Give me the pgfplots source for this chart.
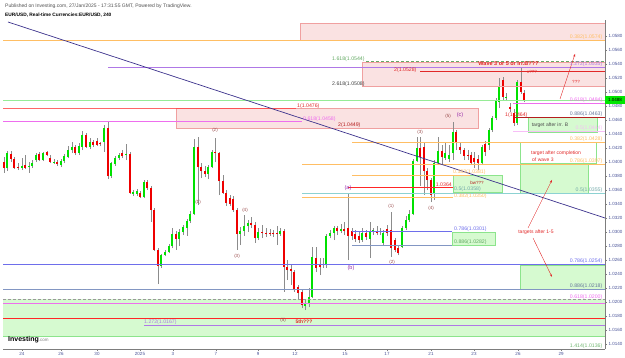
\documentclass[border=0pt]{standalone}
\usepackage{fontspec}
\setmainfont{Liberation Sans}
\usepackage{pgfplots}
\pgfplotsset{compat=1.18}
\usepackage{pgfplotstable}
\usetikzlibrary{arrows.meta}

\definecolor{cgreen}{RGB}{0,225,0}
\definecolor{cred}{RGB}{238,0,0}
\definecolor{cwick}{RGB}{140,140,140}
\definecolor{pinkfill}{RGB}{250,226,226}
\definecolor{pinkedge}{RGB}{240,160,160}
\definecolor{greenfill}{RGB}{214,250,208}
\definecolor{greenedge}{RGB}{140,228,140}
\definecolor{fiborange}{RGB}{255,190,100}
\definecolor{fibpurple}{RGB}{175,120,230}
\definecolor{fibmagenta}{RGB}{238,110,238}
\definecolor{fibblue}{RGB}{110,110,235}
\definecolor{fibgrayblue}{RGB}{130,150,195}
\definecolor{fibteal}{RGB}{140,210,210}
\definecolor{fibgreen}{RGB}{100,170,100}
\definecolor{trendnavy}{RGB}{60,50,140}
\definecolor{wavebrown}{RGB}{150,70,70}
\definecolor{wavepurple}{RGB}{150,40,170}
\definecolor{tickblue}{RGB}{70,80,150}
\definecolor{annred}{RGB}{225,40,40}
\definecolor{darkred}{RGB}{180,30,30}
\definecolor{pricegreen}{RGB}{0,230,0}
\definecolor{priceline}{RGB}{150,235,150}

\newcommand\hdr{\fontsize{5}{6}\selectfont}
\newcommand\fib{\fontsize{5.2}{6}\selectfont}
\newcommand\wav{\fontsize{4.5}{5}\selectfont}
\newcommand\ann{\fontsize{5}{6}\selectfont}
\newcommand\tck{\fontsize{4.5}{5}\selectfont}

% x = pixel column, prices: wick bottom, body bottom, body top, wick top
\pgfplotstableread{
x wb bb bt wt
7 1.03868 1.03911 1.04125 1.04154
22 1.03882 1.03911 1.03940 1.04054
29 1.03840 1.03925 1.03940 1.03997
32 1.03911 1.03940 1.03982 1.04025
36 1.03997 1.04025 1.04097 1.04125
43 1.04011 1.04025 1.04125 1.04140
54 1.03968 1.03982 1.03997 1.04040
61 1.03925 1.03954 1.04011 1.04040
64 1.03982 1.04011 1.04082 1.04111
68 1.04054 1.04068 1.04168 1.04225
72 1.04125 1.04168 1.04211 1.04282
79 1.04097 1.04125 1.04225 1.04268
82 1.04168 1.04211 1.04382 1.04440
90 1.04182 1.04211 1.04282 1.04340
104 1.04140 1.04282 1.04482 1.04525
111 1.03768 1.03797 1.03982 1.03997
115 1.03940 1.03968 1.04054 1.04082
119 1.04025 1.04054 1.04097 1.04125
126 1.04025 1.04097 1.04111 1.04254
133 1.03511 1.03540 1.03568 1.03597
137 1.03511 1.03540 1.03582 1.03611
144 1.03482 1.03497 1.03711 1.03740
161 1.02482 1.02511 1.02668 1.02682
165 1.02654 1.02668 1.02711 1.02740
169 1.02697 1.02711 1.02797 1.02825
172 1.02768 1.02797 1.02968 1.03054
179 1.02797 1.02897 1.02997 1.03040
183 1.02954 1.02997 1.03068 1.03097
187 1.02940 1.03054 1.03154 1.03182
190 1.03125 1.03154 1.03254 1.03297
194 1.03240 1.03254 1.04211 1.04325
208 1.03754 1.03825 1.03925 1.03954
212 1.03911 1.03925 1.04140 1.04168
240 1.02811 1.02968 1.03011 1.03068
244 1.02940 1.03011 1.03082 1.03240
248 1.02997 1.03082 1.03125 1.03168
258 1.02882 1.02911 1.02997 1.03054
280 1.02940 1.02968 1.03011 1.03054
305 1.01882 1.01940 1.01982 1.02025
309 1.01925 1.01982 1.02068 1.02197
312 1.02054 1.02068 1.02640 1.02782
326 1.02482 1.02525 1.02940 1.02968
330 1.02911 1.02940 1.02982 1.03025
334 1.02882 1.02982 1.03054 1.03082
341 1.02982 1.03011 1.03040 1.03111
362 1.02854 1.02882 1.02982 1.03054
370 1.02625 1.02897 1.03011 1.03140
373 1.02954 1.02997 1.03025 1.03054
380 1.02954 1.02997 1.03011 1.03054
383 1.02811 1.02840 1.02982 1.03025
402 1.02768 1.02782 1.03054 1.03082
406 1.03025 1.03054 1.03168 1.03225
409 1.03140 1.03168 1.03254 1.03311
413 1.03240 1.03254 1.04011 1.04040
417 1.03997 1.04011 1.04197 1.04354
434 1.03454 1.03554 1.03982 1.04025
438 1.03954 1.03982 1.04154 1.04354
445 1.04025 1.04054 1.04125 1.04268
449 1.03997 1.04040 1.04097 1.04240
453 1.04025 1.04125 1.04425 1.04568
482 1.03954 1.03982 1.04211 1.04240
489 1.04168 1.04240 1.04454 1.04482
492 1.04425 1.04454 1.04625 1.04654
496 1.04597 1.04625 1.04882 1.04911
499 1.04768 1.04854 1.05082 1.05197
506 1.04868 1.04911 1.04925 1.04982
517 1.04525 1.04554 1.05140 1.05168
}\greencandles

\pgfplotstableread{
x wb bb bt wt
4 1.03840 1.03911 1.03997 1.04068
11 1.03997 1.04040 1.04111 1.04154
14 1.03897 1.03911 1.04040 1.04068
18 1.03882 1.03911 1.03925 1.03982
25 1.03897 1.03911 1.03954 1.04097
39 1.04011 1.04025 1.04111 1.04140
47 1.04082 1.04097 1.04140 1.04154
50 1.03982 1.03997 1.04054 1.04097
57 1.03940 1.03968 1.03997 1.04025
75 1.04097 1.04125 1.04211 1.04240
86 1.04197 1.04211 1.04382 1.04411
93 1.04211 1.04240 1.04282 1.04311
97 1.04225 1.04240 1.04297 1.04340
100 1.04225 1.04254 1.04268 1.04282
108 1.03754 1.03797 1.04482 1.04582
122 1.04054 1.04082 1.04125 1.04168
130 1.03540 1.03554 1.04111 1.04140
140 1.03482 1.03497 1.03554 1.03582
147 1.03597 1.03625 1.03711 1.03740
151 1.03140 1.03311 1.03625 1.03654
154 1.02725 1.02740 1.03311 1.03340
158 1.02254 1.02511 1.02740 1.02768
176 1.02740 1.02897 1.02968 1.03011
198 1.03382 1.03925 1.04211 1.04354
201 1.03768 1.03868 1.03925 1.03982
205 1.03782 1.03825 1.03868 1.03940
215 1.03997 1.04125 1.04140 1.04340
219 1.03525 1.03725 1.04125 1.04140
223 1.03540 1.03554 1.03725 1.03811
226 1.03368 1.03411 1.03554 1.03597
230 1.03368 1.03397 1.03482 1.03525
233 1.03282 1.03311 1.03468 1.03511
237 1.02740 1.02968 1.03311 1.03340
251 1.03054 1.03097 1.03125 1.03211
255 1.02840 1.02911 1.03097 1.03140
262 1.02911 1.02982 1.02997 1.03097
266 1.02925 1.02968 1.02982 1.03054
270 1.02940 1.02968 1.02982 1.03040
273 1.02925 1.02968 1.02982 1.03025
277 1.02811 1.02968 1.02982 1.03082
284 1.02140 1.02497 1.03011 1.03040
287 1.02311 1.02454 1.02497 1.02597
291 1.02240 1.02440 1.02468 1.02525
294 1.02140 1.02168 1.02425 1.02454
298 1.02025 1.02125 1.02211 1.02240
302 1.01911 1.01954 1.02140 1.02168
316 1.02425 1.02482 1.02625 1.02782
320 1.02382 1.02497 1.02525 1.02625
323 1.02482 1.02525 1.02540 1.02625
337 1.02954 1.03011 1.03054 1.03082
344 1.02954 1.03011 1.03040 1.03140
348 1.02597 1.02940 1.03054 1.03540
352 1.02882 1.02940 1.03011 1.03054
355 1.02854 1.02897 1.02968 1.03025
359 1.02840 1.02882 1.02940 1.02997
366 1.02882 1.02925 1.02982 1.03025
377 1.02954 1.02982 1.02997 1.03082
387 1.02940 1.02982 1.03040 1.03097
391 1.02640 1.02768 1.03025 1.03282
395 1.02711 1.02740 1.02882 1.02911
398 1.02668 1.02697 1.02768 1.02797
420 1.03654 1.04068 1.04197 1.04354
424 1.03525 1.03868 1.04211 1.04282
427 1.03597 1.03740 1.03868 1.03911
431 1.03425 1.03525 1.03740 1.03768
442 1.03954 1.04068 1.04154 1.04240
456 1.04168 1.04268 1.04425 1.04454
460 1.04111 1.04168 1.04211 1.04282
464 1.04025 1.04082 1.04168 1.04197
468 1.04025 1.04082 1.04097 1.04168
471 1.03954 1.03982 1.04097 1.04140
474 1.03911 1.03997 1.04054 1.04140
478 1.03882 1.03982 1.04040 1.04097
485 1.04082 1.04140 1.04254 1.04297
503 1.04882 1.04925 1.05168 1.05211
510 1.04711 1.04754 1.04782 1.04840
514 1.04511 1.04554 1.04697 1.04754
521 1.04968 1.04997 1.05140 1.05340
524 1.04854 1.04882 1.04982 1.05025
}\redcandles

\begin{document}
\begin{tikzpicture}
\useasboundingbox (0,0) rectangle (625pt,358pt);

% ---------- background zones (pixel coordinates, origin top-left) ----------
\begin{scope}[x=1pt,y=-1pt,yshift=358pt]
  \filldraw[fill=pinkfill, draw=pinkedge, line width=0.5pt] (300,23) rectangle (605,40);
  \filldraw[fill=pinkfill, draw=pinkedge, line width=0.5pt] (362,62) rectangle (605,86);
  \filldraw[fill=pinkfill, draw=pinkedge, line width=0.5pt] (176,108) rectangle (478,128);
  \filldraw[fill=greenfill, draw=greenedge, line width=0.6pt] (528,117) rectangle (597,132);
  \draw[greenedge, line width=1pt] (520,143) rectangle (596,164);
  \filldraw[fill=greenfill, draw=greenedge, line width=0.6pt] (520,164) rectangle (588,193);
  \filldraw[fill=greenfill, draw=greenedge, line width=0.6pt] (453,175) rectangle (502,192);
  \filldraw[fill=greenfill, draw=greenedge, line width=0.6pt] (452,232) rectangle (495,245);
  \filldraw[fill=greenfill, draw=greenedge, line width=0.6pt] (520,265) rectangle (605,289);
  \fill[greenfill] (3,299) rectangle (605,337);
\end{scope}

\begin{axis}[
  at={(3pt,9pt)}, anchor=south west,
  scale only axis, width=602pt, height=329pt,
  xmin=3, xmax=605, ymin=1.013257, ymax=1.060257,
  axis x line=bottom, axis y line=right,
  axis line style={draw={rgb,255:red,125;green,125;blue,125}, line width=0.5pt, -},
  tick style={draw={rgb,255:red,125;green,125;blue,125}, line width=0.4pt},
  major tick length=2pt, tick align=outside,
  xtick={22,61,97,140,173,216,258,295,345,387,431,474,518,561},
  xticklabels={24,26,30,2025,3,7,9,12,15,17,21,23,26,29},
  ytick={1.014,1.016,...,1.058},
  scaled y ticks=false,
  xticklabel style={font=\tck, text=tickblue, inner sep=1pt},
  yticklabel style={font=\tck, text=tickblue, inner sep=1.5pt, /pgf/number format/.cd, fixed, fixed zerofill, precision=4, assume math mode=true},
]
  % wicks
  \addplot[cwick, line width=0.6pt, -, quiver={u=0, v=\thisrow{wt}-\thisrow{wb}}] table[x=x, y=wb] {\greencandles};
  \addplot[cwick, line width=0.6pt, -, quiver={u=0, v=\thisrow{wt}-\thisrow{wb}}] table[x=x, y=wb] {\redcandles};
  % bodies
  \addplot[cgreen, line width=2.4pt, -, quiver={u=0, v=\thisrow{bt}-\thisrow{bb}}] table[x=x, y=bb] {\greencandles};
  \addplot[cred, line width=2.4pt, -, quiver={u=0, v=\thisrow{bt}-\thisrow{bb}}] table[x=x, y=bb] {\redcandles};
\end{axis}

% ---------- drawings on top ----------
\begin{scope}[x=1pt,y=-1pt,yshift=358pt]
  % header
  \node[anchor=west, inner sep=0pt, font=\hdr, text={rgb,255:red,80;green,80;blue,80}] at (5,6) {Published on Investing.com, 27/Jan/2025 - 17:31:55 GMT, Powered by TradingView.};
  \node[anchor=west, inner sep=0pt, font=\fontsize{4.8}{6}\selectfont\bfseries] at (5,15) {EUR/USD, Real-time Currencies:EUR/USD, 240};

  % horizontal levels
  \draw[fiborange, line width=0.6pt] (3,40) -- (605,40);
  \draw[fibpurple, line width=0.6pt] (108,67) -- (605,67);
  \draw[fibgreen, line width=0.8pt, dash pattern=on 3pt off 2pt] (366,61) -- (605,61);
  \draw[annred, line width=0.6pt] (420,71.5) -- (605,71.5);
  \draw[pinkedge, line width=0.6pt] (368,86) -- (605,86);
  \draw[priceline, line width=0.6pt] (3,100) -- (605,100);
  \draw[fibmagenta, line width=0.5pt] (513,103) -- (605,103);
  \draw[red!75, line width=1.2pt, opacity=0.8] (3,108.5) -- (296,108.5);
  \draw[fibmagenta, line width=0.5pt] (3,121) -- (302,121);
  \draw[darkred, line width=0.9pt] (514,117) -- (605,117);
  \draw[fibmagenta!45, line width=0.5pt] (513,131) -- (605,131);
  \draw[fiborange, line width=0.5pt] (352,142.5) -- (605,142.5);
  \draw[fiborange, line width=0.5pt] (302,164) -- (605,164);
  \draw[fiborange, line width=0.5pt] (352,175) -- (470,175);
  \draw[red!85, line width=1pt] (348,188) -- (453,188);
  \draw[fibteal, line width=0.5pt] (302,193) -- (605,193);
  \draw[fiborange, line width=0.5pt] (302,197) -- (453,197);
  \draw[fibblue, line width=0.5pt] (352,231.5) -- (452,231.5);
  \draw[fibgrayblue, line width=0.5pt] (352,245) -- (452,245);
  \draw[fibblue, line width=0.5pt] (3,264) -- (605,264);
  \draw[fibgrayblue, line width=0.5pt] (3,289) -- (605,289);
  \draw[gray!80, line width=0.8pt, dash pattern=on 3pt off 2pt] (3,299.5) -- (605,299.5);
  \draw[fibmagenta, line width=0.6pt] (3,303) -- (605,303);
  \draw[red!85, line width=0.8pt] (3,318) -- (605,318);
  \draw[fibpurple, line width=0.5pt] (144,325) -- (605,325);
  \draw[greenedge, line width=1pt] (3,337) -- (605,337);

  % trend line
  \draw[trendnavy, line width=0.7pt] (8,22) -- (605,218);

  % arrows
  \draw[annred, line width=0.4pt, -{Stealth[length=3pt,width=2pt]}] (560,99) -- (575,54);
  \draw[annred, line width=0.4pt, -{Stealth[length=3pt,width=2pt]}] (528,228) -- (552,180);
  \draw[annred, line width=0.4pt, -{Stealth[length=3pt,width=2pt]}] (533,238) -- (552,277);

  % right-hand fib labels
  \begin{scope}[every node/.style={anchor=south east, inner sep=0.5pt, font=\fib}]
    \node[text=fiborange] at (603,40) {0.382(1.0574)};
    \node[text=fibpurple] at (603,67) {1.272(1.0535)};
    \node[text=fibmagenta] at (603,103) {0.618(1.0484)};
    \node[text=fibgrayblue!80!black] at (603,117.5) {0.886(1.0463)};
    \node[text=fibmagenta!45] at (603,131) {0.5(1.0444)};
    \node[text=fiborange] at (603,142.5) {0.382(1.0428)};
    \node[text=fiborange] at (603,164) {0.786(1.0397)};
    \node[text=fibteal!80!black] at (603,193) {0.5(1.0355)};
    \node[text=fibblue] at (603,264) {0.786(1.0254)};
    \node[text=fibgrayblue!80!black] at (603,289) {0.886(1.0218)};
    \node[text=fibmagenta] at (603,300) {0.618(1.0200)};
    \node[text=greenedge!80!black] at (603,349.5) {1.414(1.0136)};
  \end{scope}

  % inline fib labels
  \begin{scope}[every node/.style={anchor=west, inner sep=0pt, font=\fib}]
    \node[text=fibgreen] at (332,59) {1.618(1.0544)};
    \node[text=annred] at (394,70) {2(1.0528)};
    \node[text=black!75] at (332,84) {2.618(1.0508)};
    \node[text=annred] at (297,106.5) {1(1.0476)};
    \node[text=fibmagenta] at (303,119.5) {0.618(1.0458)};
    \node[text=darkred] at (338,125) {2(1.0449)};
    \node[text=annred] at (505,115) {1(1.0464)};
    \node[text=fiborange] at (453,172) {0.382(1.0381)};
    \node[text=fibteal!80!black] at (454,189.5) {0.5(1.0358)};
    \node[text=fiborange] at (454,196) {0.382(1.0350)};
    \node[text=fibblue] at (454,229) {0.786(1.0301)};
    \node[text=fibgreen] at (454,242) {0.886(1.0282)};
    \node[text=fibpurple] at (144,322) {1.272(1.0167)};
  \end{scope}
  \node[anchor=east, inner sep=0pt, font=\fib, text=annred] at (452,185) {1.0364};

  % annotations
  \node[font=\fontsize{5.5}{6}\selectfont\bfseries, text=annred, inner sep=0pt] at (508.5,64) {Wave 3 or 5 or irr.B???};
  \node[font=\wav, text=annred, inner sep=0pt] at (532,71.5) {x???};
  \node[font=\wav, text=annred, inner sep=0pt] at (576,82) {???};
  \node[font=\ann, text=black!70, inner sep=0pt] at (550,125) {target after irr. B};
  \node[font=\ann, text=annred, inner sep=0pt] at (556,153) {target after completion};
  \node[font=\ann, text=annred, inner sep=0pt, anchor=west] at (532,160) {of wave 3};
  \node[font=\ann, text=annred, inner sep=0pt] at (536,232) {targets after 1-5};
  \node[font=\wav, text=darkred, inner sep=0pt] at (477,183) {bw???};

  % wave labels
  \begin{scope}[every node/.style={inner sep=0pt, font=\wav, text=wavebrown}]
    \node at (198,202) {(1)};
    \node at (215,130) {(2)};
    \node at (237,256) {(3)};
    \node at (245,210) {(4)};
    \node at (283,320) {(5)};
    \node at (391,206) {(1)};
    \node at (392,262) {(2)};
    \node at (420,132) {(3)};
    \node at (431,208) {(4)};
    \node at (448,116) {(5)};
  \end{scope}
  \node[inner sep=0pt, font=\fontsize{5}{6}\selectfont\bfseries, text=annred] at (304,322) {5th???};
  \node[inner sep=0pt, font=\fontsize{5.5}{6}\selectfont, text=wavepurple] at (348,188) {(a)};
  \node[inner sep=0pt, font=\fontsize{5.5}{6}\selectfont, text=wavepurple] at (351,268) {(b)};
  \node[inner sep=0pt, font=\fontsize{5.5}{6}\selectfont, text=wavepurple] at (460,115) {(c)};

  % price tag
  \fill[pricegreen] (605,96) rectangle (625,104);
  \node[inner sep=0pt, font=\tck, text=black] at (615,100) {1.0488};

  % logo
  \node[anchor=west, inner sep=0pt] at (8,339.5) {\fontsize{7}{8}\selectfont\bfseries Investing\fontsize{4.5}{5}\selectfont\mdseries\textcolor{gray}{.com}};
\end{scope}
\end{tikzpicture}
\end{document}
